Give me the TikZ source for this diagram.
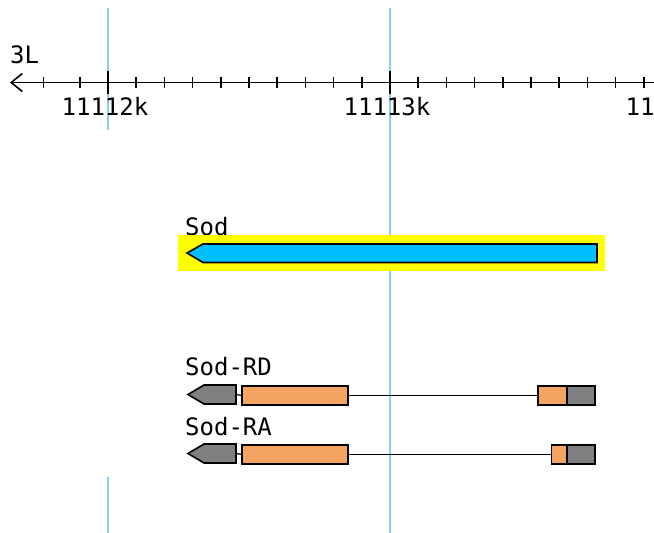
\documentclass[tikz,border=0pt]{standalone}
\usepackage{fontspec}
\newfontfamily\gbfont{DejaVu Sans Mono}
\usetikzlibrary{arrows.meta}
\definecolor{guide}{RGB}{140,205,235}
\definecolor{genefill}{RGB}{0,191,255}
\definecolor{hilite}{RGB}{255,255,0}
\definecolor{utrgrey}{RGB}{128,128,128}
\definecolor{cdsorange}{RGB}{244,164,96}
\tikzset{
  guideline/.style={draw=guide, line width=2pt},
  axisline/.style={draw=black, line width=1.8pt},
  tickmark/.style={draw=black, line width=1.5pt},
  lbl/.style={font=\gbfont\fontsize{24}{24}\selectfont, inner sep=0pt, text=black},
  utr/.style={draw=black, fill=utrgrey, line width=1.6pt},
  cds/.style={draw=black, fill=cdsorange, line width=1.6pt, rectangle, inner sep=0pt, anchor=north west},
  utrbox/.style={draw=black, fill=utrgrey, line width=1.6pt, rectangle, inner sep=0pt, anchor=north west},
  intron/.style={draw=black, line width=1.2pt},
}
\begin{document}
\begin{tikzpicture}[x=1pt,y=-1pt]
\clip (0,0) rectangle (654,533);
\fill[white] (0,0) rectangle (654,533);
% guide lines
\draw[guideline] (108,8) -- (108,130);
\draw[guideline] (108,477) -- (108,533);
\draw[guideline] (390,8) -- (390,533);
% ruler
\node[lbl, anchor=base west] (chr) at (10,63) {3L};
\coordinate (axL) at (10,82.5);
\coordinate (axR) at (660,82.5);
\draw[axisline, {Straight Barb[length=11pt,width=18pt,line width=1.6pt]}-] (axL) -- (axR);
\foreach \x in {43.5,80} \draw[tickmark] (\x,77) -- (\x,88);
\foreach \k [evaluate=\k as \xx using 108+28.2*\k] in {1,...,19} {
  \draw[tickmark] (\xx,77) -- (\xx,88);
}
\draw[tickmark] (108,71) -- (108,94);
\draw[tickmark] (390,71) -- (390,94);
\node[lbl, anchor=base] (k12) at (105,115) {11112k};
\node[lbl, anchor=base] (k13) at (387,115) {11113k};
\node[lbl, anchor=base] (k14) at (669,115) {11114k};
% Sod gene
\node[lbl, anchor=base west] (sodlbl) at (185,235) {Sod};
\fill[hilite] (178,235) rectangle (605,271);
\draw[draw=black, fill=genefill, line width=1.6pt] (187,253) -- (203,244) -- (597,244) -- (597,262.5) -- (203,262.5) -- cycle;
% Sod-RD
\node[lbl, anchor=base west] (rdlbl) at (185,375) {Sod-RD};
\draw[utr] (188,394.5) -- (204,385) -- (236,385) -- (236,404) -- (204,404) -- cycle;
\coordinate (rdg) at (236,394.5);
\node[cds, minimum width=106pt, minimum height=19pt] (rd1) at (241,385) {};
\node[cds, minimum width=29pt, minimum height=19pt] (rd2) at (537,385) {};
\node[utrbox, minimum width=28pt, minimum height=19pt] (rd3) at (566,385) {};
\draw[intron] (rdg) -- (rd1.west);
\draw[intron] (rd1.east) -- (rd2.west);
% Sod-RA
\node[lbl, anchor=base west] (ralbl) at (185,435) {Sod-RA};
\draw[utr] (188,453.5) -- (204,444) -- (236,444) -- (236,463) -- (204,463) -- cycle;
\coordinate (rag) at (236,453.5);
\node[cds, minimum width=106pt, minimum height=19pt] (ra1) at (241,444) {};
\node[cds, minimum width=15.5pt, minimum height=19pt] (ra2) at (550.5,444) {};
\node[utrbox, minimum width=28pt, minimum height=19pt] (ra3) at (566,444) {};
\draw[intron] (rag) -- (ra1.west);
\draw[intron] (ra1.east) -- (ra2.west);
\end{tikzpicture}
\end{document}
